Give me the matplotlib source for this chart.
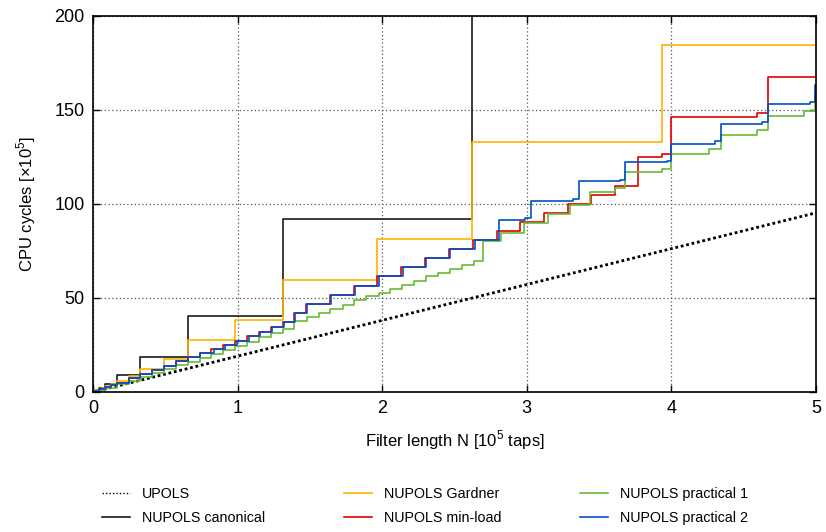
import matplotlib
matplotlib.use("Agg")
import matplotlib.pyplot as plt
from matplotlib.lines import Line2D

plt.rcParams['font.family'] = ['Liberation Sans', 'DejaVu Sans']
plt.rcParams['mathtext.fontset'] = 'custom'
plt.rcParams['mathtext.rm'] = 'Liberation Sans'

# Filter length in units of 1e5 taps, CPU cycles in units of 1e5
upols_x = [0.0, 5.0]
upols_y = [0.0, 95.3]

canon_x = [0.0, 0.041, 0.082, 0.164, 0.328, 0.655, 1.311, 2.621, 5.0]
canon_y = [0.9, 2.0, 4.1, 9.0, 18.8, 40.4, 92.2, 215.0, 215.0]

gardner_x = [0.0, 0.041, 0.061, 0.082, 0.123, 0.164, 0.246, 0.328, 0.492,
             0.655, 0.983, 1.311, 1.966, 2.621, 3.932, 5.0]
gardner_y = [0.9, 1.6, 2.2, 3.0, 4.1, 5.9, 8.4, 12.4, 17.5,
             27.8, 38.3, 59.7, 81.3, 133.2, 184.5, 184.5]

minload_x = [0.0, 0.041, 0.082, 0.123, 0.164, 0.246, 0.328, 0.41, 0.492, 0.573,
             0.655, 0.737, 0.819, 0.901, 0.983, 1.065, 1.147, 1.229, 1.311, 1.393,
             1.475, 1.638, 1.802, 1.966, 2.13, 2.294, 2.464, 2.628, 2.794, 2.955,
             3.116, 3.282, 3.444, 3.612, 3.766, 3.935, 4.0, 4.59, 4.668, 5.0]
minload_y = [0.5, 1.4, 2.6, 3.8, 5.0, 7.3, 9.6, 11.8, 14.0, 16.3,
             18.6, 20.7, 22.9, 25.2, 27.3, 29.6, 32.1, 34.5, 37.4, 42.0,
             47.0, 51.8, 56.5, 61.5, 66.3, 71.1, 76.1, 81.0, 85.4, 90.2,
             95.2, 100.0, 104.9, 109.7, 124.8, 126.8, 146.1, 148.4, 167.5, 167.5]

prac2_x = [0.0, 0.041, 0.082, 0.123, 0.164, 0.246, 0.328, 0.41, 0.492, 0.573,
           0.655, 0.737, 0.834, 0.915, 0.996, 1.076, 1.157, 1.238, 1.318, 1.399,
           1.48, 1.646, 1.814, 1.98, 2.141, 2.303, 2.471, 2.644, 2.805, 2.99,
           3.026, 3.32, 3.358, 3.646, 3.68, 3.971, 4.0, 4.30, 4.34, 4.63,
           4.668, 4.956, 4.99, 5.0]
prac2_y = [0.5, 1.4, 2.6, 3.8, 5.0, 7.3, 9.6, 11.8, 14.0, 16.3,
           18.6, 20.7, 22.9, 25.2, 27.3, 29.6, 32.1, 34.5, 37.4, 42.0,
           47.0, 51.8, 56.5, 61.5, 66.3, 71.1, 76.1, 81.0, 91.3, 92.5,
           101.8, 102.8, 112.0, 112.9, 122.3, 123.0, 132.1, 133.3, 142.6, 143.8,
           153.2, 154.3, 163.5, 163.5]

prac1_x = [0.0, 0.082, 0.164, 0.246, 0.328, 0.41, 0.492, 0.573, 0.655, 0.737,
           0.819, 0.901, 0.983, 1.065, 1.147, 1.229, 1.311, 1.393, 1.48, 1.56,
           1.641, 1.726, 1.807, 1.89, 1.975, 2.056, 2.137, 2.217, 2.303, 2.383,
           2.471, 2.552, 2.632, 2.697, 2.824, 2.978, 3.147, 3.301, 3.434, 3.612,
           3.681, 3.935, 4.0, 4.262, 4.34, 4.59, 4.668, 4.919, 4.99, 5.0]
prac1_y = [0.5, 2.0, 4.0, 6.0, 8.0, 10.0, 12.0, 14.1, 16.2, 18.3,
           20.4, 22.5, 24.6, 26.8, 29.0, 31.3, 33.5, 37.7, 39.9, 42.0,
           44.1, 46.4, 48.7, 50.9, 52.7, 54.8, 57.1, 58.8, 61.5, 63.3,
           65.4, 67.7, 69.8, 80.1, 84.6, 89.9, 94.7, 99.6, 106.4, 108.5,
           116.8, 118.8, 126.8, 129.2, 136.9, 139.2, 147.0, 149.6, 158.1, 158.1]

x_ticks = [0, 1, 2, 3, 4, 5]
y_ticks = [0, 50, 100, 150, 200]

W, H = 826, 532
fig = plt.figure(figsize=(W / 100, H / 100), dpi=100)
ax = fig.add_axes([93 / W, 1 - 392 / H, (816 - 93) / W, (392 - 16) / H])

lw = 1.2
ax.plot(upols_x, upols_y, color='black', lw=2.0, ls=(0, (1, 1)), label='UPOLS')
ax.plot(canon_x, canon_y, color='#1a1a1a', lw=lw, drawstyle='steps-post',
        label='NUPOLS canonical')
ax.plot(gardner_x, gardner_y, color='#ffb000', lw=lw, drawstyle='steps-post',
        label='NUPOLS Gardner')
ax.plot(minload_x, minload_y, color='#e00000', lw=lw, drawstyle='steps-post',
        label='NUPOLS min-load')
ax.plot(prac1_x, prac1_y, color='#66bb33', lw=lw, drawstyle='steps-post',
        label='NUPOLS practical 1')
ax.plot(prac2_x, prac2_y, color='#0050c8', lw=lw, drawstyle='steps-post',
        label='NUPOLS practical 2')

ax.set_xlim(0, 5)
ax.set_ylim(0, 200)
ax.set_xticks(x_ticks)
ax.set_yticks(y_ticks)
ax.tick_params(direction='in', length=5, width=1, labelsize=13,
               top=True, right=True, pad=6)
ax.grid(True, color='#555555', ls=(0, (1, 2)), lw=0.9)
for s in ax.spines.values():
    s.set_linewidth(1.2)

ax.set_xlabel('Filter length N [10$^5$ taps]', fontsize=12, labelpad=8)
ax.set_ylabel(r'CPU cycles [$\times$10$^5$]', fontsize=12, labelpad=12)

handles, labels = ax.get_legend_handles_labels()
# thinner dotted key for the UPOLS entry
handles[0] = Line2D([], [], color='black', lw=1.0, ls=(0, (1, 1.5)))
fig.legend(handles, labels, ncol=3, loc='center left',
           bbox_to_anchor=(95 / W, 1 - 506 / H), frameon=False,
           borderpad=0, fontsize=10.3, handlelength=1.95, columnspacing=5.5,
           labelspacing=0.7, handletextpad=0.85)

fig.savefig('out.png', dpi=100)
